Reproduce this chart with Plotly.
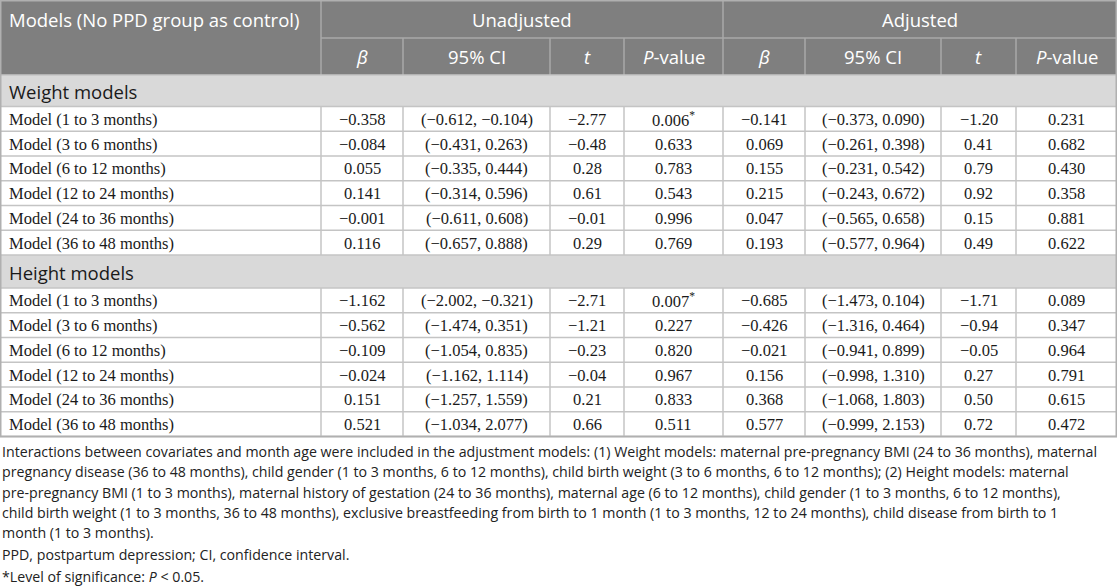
import numpy as np
import plotly.graph_objects as go

W, H = 1117, 587

periods = ["1 to 3", "3 to 6", "6 to 12", "12 to 24", "24 to 36", "36 to 48"]

# weight models
w_un_beta = [-0.358, -0.084, 0.055, 0.141, -0.001, 0.116]
w_un_lo = [-0.612, -0.431, -0.335, -0.314, -0.611, -0.657]
w_un_hi = [-0.104, 0.263, 0.444, 0.596, 0.608, 0.888]
w_un_t = [-2.77, -0.48, 0.28, 0.61, -0.01, 0.29]
w_un_p = [0.006, 0.633, 0.783, 0.543, 0.996, 0.769]
w_ad_beta = [-0.141, 0.069, 0.155, 0.215, 0.047, 0.193]
w_ad_lo = [-0.373, -0.261, -0.231, -0.243, -0.565, -0.577]
w_ad_hi = [0.090, 0.398, 0.542, 0.672, 0.658, 0.964]
w_ad_t = [-1.20, 0.41, 0.79, 0.92, 0.15, 0.49]
w_ad_p = [0.231, 0.682, 0.430, 0.358, 0.881, 0.622]

# height models
h_un_beta = [-1.162, -0.562, -0.109, -0.024, 0.151, 0.521]
h_un_lo = [-2.002, -1.474, -1.054, -1.162, -1.257, -1.034]
h_un_hi = [-0.321, 0.351, 0.835, 1.114, 1.559, 2.077]
h_un_t = [-2.71, -1.21, -0.23, -0.04, 0.21, 0.66]
h_un_p = [0.007, 0.227, 0.820, 0.967, 0.833, 0.511]
h_ad_beta = [-0.685, -0.426, -0.021, 0.156, 0.368, 0.577]
h_ad_lo = [-1.473, -1.316, -0.941, -0.998, -1.068, -0.999]
h_ad_hi = [0.104, 0.464, 0.899, 1.310, 1.803, 2.153]
h_ad_t = [-1.71, -0.94, -0.05, 0.27, 0.50, 0.72]
h_ad_p = [0.089, 0.347, 0.964, 0.791, 0.615, 0.472]

col_title = "Models (No PPD group as control)"
groups = ["Unadjusted", "Adjusted"]
sub_heads = ["<i>β</i>", "95% CI", "<i>t</i>", "<i>P</i>-value"]
sections = ["Weight models", "Height models"]

notes = [
    ["Interactions between covariates and month age were included in the adjustment models: (1) Weight models: maternal pre-pregnancy BMI (24 to 36 months), maternal",
     "pregnancy disease (36 to 48 months), child gender (1 to 3 months, 6 to 12 months), child birth weight (3 to 6 months, 6 to 12 months); (2) Height models: maternal",
     "pre-pregnancy BMI (1 to 3 months), maternal history of gestation (24 to 36 months), maternal age (6 to 12 months), child gender (1 to 3 months, 6 to 12 months),",
     "child birth weight (1 to 3 months, 36 to 48 months), exclusive breastfeeding from birth to 1 month (1 to 3 months, 12 to 24 months), child disease from birth to 1",
     "month (1 to 3 months)."],
    ["PPD, postpartum depression; CI, confidence interval."],
    ["*Level of significance: <i>P</i> < 0.05."],
]


def num(v, d):
    return f"{v:.{d}f}".replace("-", "\u2212")


def pval(p):
    s = num(p, 3)
    return s + "<sup>*</sup>" if p < 0.05 else s


def rows_for(beta, lo, hi, t, p, beta2, lo2, hi2, t2, p2):
    out = []
    for i, per in enumerate(periods):
        out.append([f"Model ({per} months)",
                    num(beta[i], 3), f"({num(lo[i], 3)}, {num(hi[i], 3)})", num(t[i], 2), pval(p[i]),
                    num(beta2[i], 3), f"({num(lo2[i], 3)}, {num(hi2[i], 3)})", num(t2[i], 2), pval(p2[i])])
    return out


blocks = [
    (sections[0], rows_for(w_un_beta, w_un_lo, w_un_hi, w_un_t, w_un_p, w_ad_beta, w_ad_lo, w_ad_hi, w_ad_t, w_ad_p)),
    (sections[1], rows_for(h_un_beta, h_un_lo, h_un_hi, h_un_t, h_un_p, h_ad_beta, h_ad_lo, h_ad_hi, h_ad_t, h_ad_p)),
]

# layout geometry
col_w = [321, 82, 147, 74, 99, 82, 136, 75, 101]
xe = np.concatenate([[0], np.cumsum(col_w)])
head_h = [38, 37]
sec_h = [31.5, 33]
row_h = 24.75

HEAD_BG = "#7f7f7f"
HEAD_LINE = "#a8a8a8"
SEC_BG = "#d9d9d9"
GRID = "#c4c4c4"
SANS = "Open Sans"
SERIF = "Liberation Serif"
TXT = "#1a1a1a"
HEAD_FS = 18.5
CELL_FS = 16.5
NOTE_FS = 14.2

shapes = []
ann = []


def rect(x0, x1, y0, y1, fill):
    shapes.append(dict(type="rect", xref="x", yref="y", x0=x0, x1=x1, y0=y0, y1=y1,
                       fillcolor=fill, line=dict(width=0), layer="below"))


def line(x0, x1, y0, y1, color, w=1.5):
    shapes.append(dict(type="line", xref="x", yref="y", x0=x0, x1=x1, y0=y0, y1=y1,
                       line=dict(color=color, width=w)))


def text(x, y, s, font, size, color, anchor="center"):
    ann.append(dict(x=x, y=y, xref="x", yref="y", text=s, showarrow=False,
                    xanchor=anchor, yanchor="middle",
                    font=dict(family=font, size=size, color=color)))


# header
y0 = 0
y1 = head_h[0]
y2 = head_h[0] + head_h[1]
rect(0, W, y0, y2, HEAD_BG)
text(7, (y0 + y1) / 2, col_title, SANS, HEAD_FS, "white", "left")
text((xe[1] + xe[5]) / 2, (y0 + y1) / 2, groups[0], SANS, HEAD_FS, "white")
text((xe[5] + xe[9]) / 2, (y0 + y1) / 2, groups[1], SANS, HEAD_FS, "white")
for j in range(8):
    text((xe[j + 1] + xe[j + 2]) / 2, (y1 + y2) / 2, sub_heads[j % 4], SANS, HEAD_FS, "white")
line(xe[1], W, y1, y1, HEAD_LINE)
line(xe[1], xe[1], y0, y2, HEAD_LINE)
line(xe[5], xe[5], y0, y2, HEAD_LINE)
for k in [2, 3, 4, 6, 7, 8]:
    line(xe[k], xe[k], y1, y2, HEAD_LINE)

# body
y = y2
for b, (title, rows) in enumerate(blocks):
    rect(0, W, y, y + sec_h[b], SEC_BG)
    text(7, y + sec_h[b] / 2 + 0.5, title, SANS, HEAD_FS, TXT, "left")
    line(0, W, y, y, GRID)
    y += sec_h[b]
    for r in rows:
        line(0, W, y, y, GRID)
        text(7, y + row_h / 2 + 0.5, r[0], SERIF, CELL_FS, TXT, "left")
        for j in range(1, 9):
            text((xe[j] + xe[j + 1]) / 2, y + row_h / 2 + 0.5, r[j], SERIF, CELL_FS, TXT)
        for k in range(1, 9):
            line(xe[k], xe[k], y, y + row_h, GRID)
        y += row_h
table_bottom = y
line(0, W, table_bottom, table_bottom, GRID, 2)
shapes.append(dict(type="rect", xref="x", yref="y", x0=0.75, x1=W - 0.75, y0=0.75, y1=table_bottom,
                   line=dict(color="#b0b0b0", width=1.5)))

# footnotes
ny = table_bottom + 15
for p, para in enumerate(notes):
    for ln in para:
        text(0, ny, ln, SANS, NOTE_FS, "#222222", "left")
        ny += 20.3
    ny += 1.5

fig = go.Figure()
fig.update_layout(
    width=W, height=H,
    margin=dict(l=0, r=0, t=0, b=0),
    paper_bgcolor="white", plot_bgcolor="white",
    xaxis=dict(range=[0, W], visible=False, fixedrange=True),
    yaxis=dict(range=[H, 0], visible=False, fixedrange=True),
    shapes=shapes, annotations=ann, showlegend=False,
)
fig.write_html("out.html", config={"displayModeBar": False},
               post_script="document.body.style.margin='0';document.body.style.overflow='hidden';")
